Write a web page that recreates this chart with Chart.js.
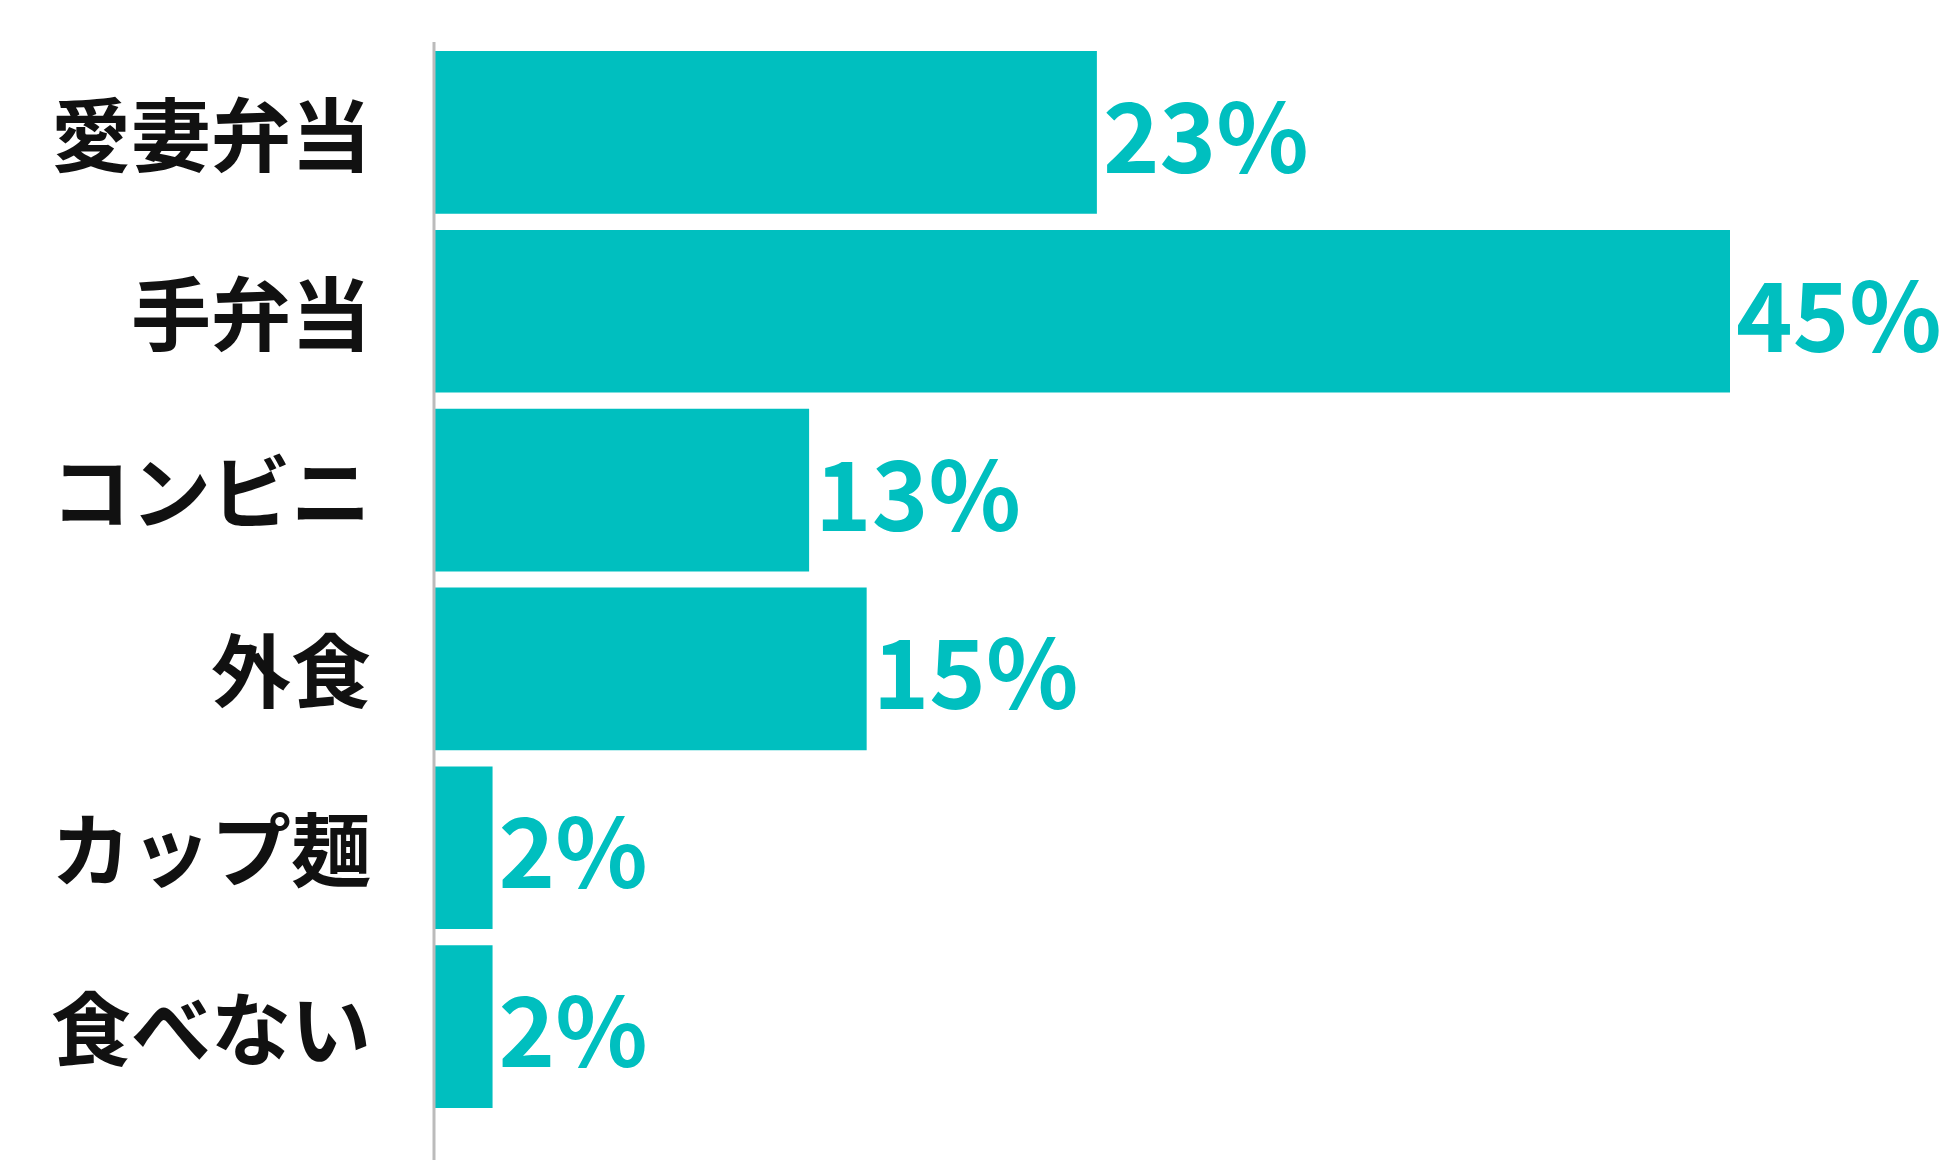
<!DOCTYPE html>
<html><head><meta charset="utf-8">
<script src="https://cdn.jsdelivr.net/npm/chart.js@4"></script>
<style>html,body{margin:0;padding:0;background:#fff}#w{width:1953px;height:1160px}</style>
</head><body><div id="w"><canvas id="c"></canvas></div>
<script>
const categories = ["愛妻弁当","手弁当","コンビニ","外食","カップ麺","食べない"];
const values = [23,45,13,15,2,2];
const teal = "#00BFBF";
const labelPlugin = {
  id:'vals',
  afterDatasetsDraw(chart){
    const ctx = chart.ctx;
    const meta = chart.getDatasetMeta(0);
    const ys = chart.scales.y;
    ctx.save();
    ctx.strokeStyle = '#bbbbbb'; ctx.lineWidth = 3;
    ctx.beginPath(); ctx.moveTo(chart.chartArea.left-1, 42); ctx.lineTo(chart.chartArea.left-1, 1160); ctx.stroke();
    ctx.textBaseline = 'middle';
    ctx.fillStyle = teal;
    ctx.font = "bold 96px 'Noto Sans CJK JP','Noto Sans'";
    ctx.textAlign = 'left';
    meta.data.forEach((bar,i)=>{ ctx.fillText(values[i]+'%', bar.x+6, bar.y+4); });
    ctx.fillStyle = '#111';
    ctx.font = "bold 80px 'Noto Sans CJK JP'";
    ctx.textAlign = 'right';
    categories.forEach((c,i)=>{ ctx.fillText(c, chart.chartArea.left-64, ys.getPixelForValue(i)+2); });
    ctx.restore();
  }
};
new Chart(document.getElementById('c'),{
  type:'bar',
  data:{labels:categories,datasets:[{data:values,backgroundColor:teal,barPercentage:0.91,categoryPercentage:1}]},
  options:{
    indexAxis:'y',responsive:true,maintainAspectRatio:false,animation:false,
    layout:{padding:{top:43,right:223,bottom:44,left:0}},
    plugins:{legend:{display:false},tooltip:{enabled:false}},
    scales:{
      x:{display:false,min:0,max:45},
      y:{grid:{display:false,drawTicks:false},border:{display:false},
         ticks:{display:false},afterFit(s){s.width=435;}}
    }
  },
  plugins:[labelPlugin]
});
</script></body></html>
